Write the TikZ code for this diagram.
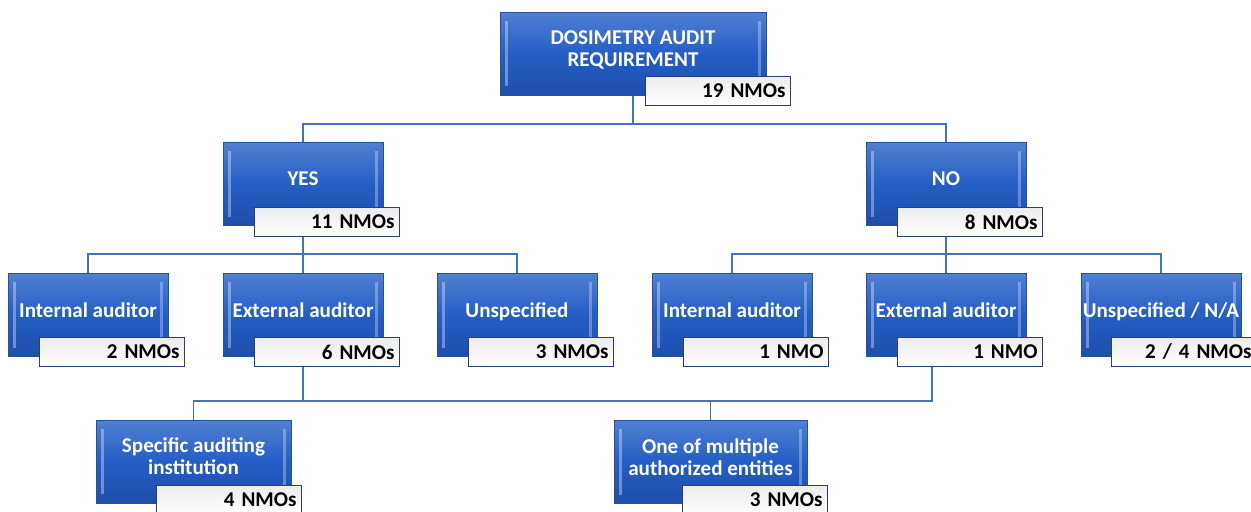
\documentclass[tikz,border=0pt]{standalone}
\usepackage{fontspec}
\setmainfont{Carlito}
\usetikzlibrary{backgrounds}

\definecolor{boxtop}{RGB}{80,128,210}
\definecolor{boxmid}{RGB}{36,94,196}
\definecolor{boxbot}{RGB}{30,78,172}
\definecolor{boxedge}{RGB}{42,80,152}
\definecolor{linkblue}{RGB}{68,114,196}
\definecolor{cntedge}{RGB}{45,62,112}

\tikzset{
  box/.style={draw=boxedge, line width=0.5pt, top color=boxtop, bottom color=boxbot,
    middle color=boxmid, text=white, font=\fontsize{12}{12.5}\selectfont\bfseries,
    align=center, minimum width=3.2cm, minimum height=1.66cm, inner sep=0.5pt,
    text depth=6pt,
    path picture={
      \fill[white, opacity=0.35] ([shift={(3pt,-5pt)}]path picture bounding box.north west)
        rectangle ([shift={(4.3pt,5pt)}]path picture bounding box.south west);
      \fill[white, opacity=0.3] ([shift={(-4.3pt,-5pt)}]path picture bounding box.north east)
        rectangle ([shift={(-3pt,5pt)}]path picture bounding box.south east);
    }},
  cnt/.style={draw=cntedge, line width=0.5pt, top color=gray!15, bottom color=white,
    font=\fontsize{12}{12.5}\selectfont\bfseries, text width=2.7cm, align=right,
    minimum height=0.58cm, inner xsep=0.1cm, inner ysep=0pt, anchor=north east},
  link/.style={draw=linkblue, line width=0.6pt}
}

\begin{document}
\begin{tikzpicture}[x=0.02cm, y=-0.02cm]
  \useasboundingbox (0,0) rectangle (1251,511);
  \clip (0,0) rectangle (1251,511);

  % requirement
  \node[box, minimum width=5.32cm] (top) at (633,53.5) {DOSIMETRY AUDIT\\REQUIREMENT};
  \node[cnt] (topc) at (791,76) {19 NMOs};

  % yes / no
  \node[box] (yes) at (303,184) {YES};
  \node[cnt] (yesc) at (400,207) {11 NMOs};
  \node[box] (no) at (946,184) {NO};
  \node[cnt] (noc) at (1043,207) {8 NMOs};

  % under yes
  \node[box] (int1) at (88,315) {Internal auditor};
  \node[cnt] (int1c) at (185,337) {2 NMOs};
  \node[box] (ext1) at (303,315) {External auditor};
  \node[cnt] (ext1c) at (400,337) {6 NMOs};
  \node[box] (uns1) at (517,315) {Unspecified};
  \node[cnt] (uns1c) at (614,337) {3 NMOs};

  % under no
  \node[box] (int2) at (732,315) {Internal auditor};
  \node[cnt] (int2c) at (829,337) {1 NMO};
  \node[box] (ext2) at (946,315) {External auditor};
  \node[cnt] (ext2c) at (1043,337) {1 NMO};
  \node[box] (uns2) at (1161,315) {Unspecified / N/A};
  \node[cnt] (uns2c) at (1257,337) {2 / 4 NMOs};

  % external auditors
  \node[box, minimum width=3.9cm] (spec) at (193.5,461.5) {Specific auditing\\institution};
  \node[cnt] (specc) at (302,485) {4 NMOs};
  \node[box, minimum width=3.86cm] (multi) at (710.5,462) {One of multiple\\authorized entities};
  \node[cnt] (multic) at (828,485) {3 NMOs};

  % connectors
  \coordinate (bus0) at (0,124);
  \coordinate (bus1) at (0,254);
  \coordinate (bus2) at (0,401);
  \coordinate (jn) at (932,401);
  \begin{scope}[on background layer]
    \draw[link] (top.south) -- (top.south |- bus0) -| (yes.north);
    \draw[link] (top.south |- bus0) -| (no.north);
    \draw[link] (yes.south) -- (yes.south |- bus1) -| (int1.north);
    \draw[link] (yes.south |- bus1) -| (uns1.north);
    \draw[link] (yes.south) -- (ext1.north);
    \draw[link] (no.south) -- (no.south |- bus1) -| (int2.north);
    \draw[link] (no.south |- bus1) -| (uns2.north);
    \draw[link] (no.south) -- (ext2.north);
    \draw[link] (ext1.south) -- (ext1.south |- bus2) -| (spec.north);
    \draw[link] (ext1.south |- bus2) -- (jn) -- (jn |- ext2c.south);
    \draw[link] (multi.north) -- (multi.north |- bus2);
  \end{scope}
\end{tikzpicture}
\end{document}
